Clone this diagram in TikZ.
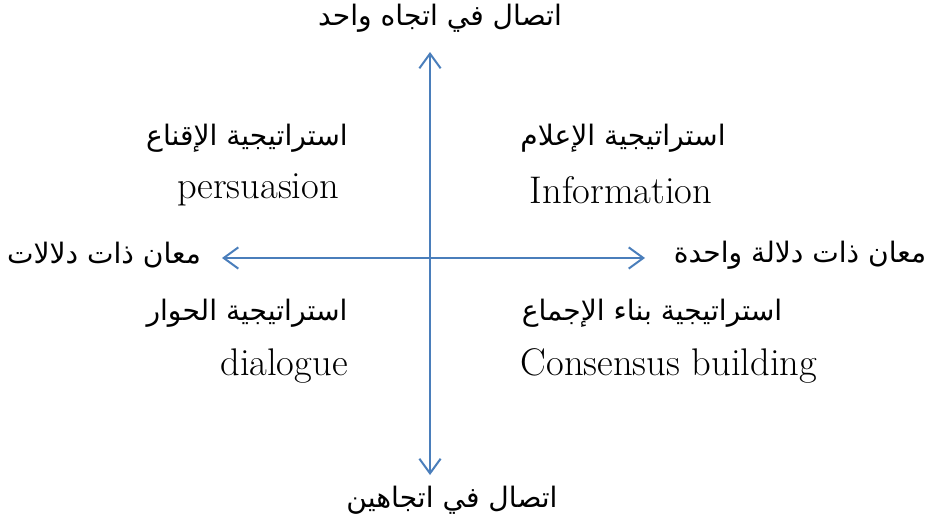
\documentclass[tikz,border=0pt]{standalone}
\usepackage{fontspec}
\usetikzlibrary{arrows.meta}
\TeXXeTstate=1
\newfontfamily\arabicfont[Script=Arabic]{DejaVu Sans}
\definecolor{axisblue}{HTML}{4A7EBB}
\tikzset{
  arlabel/.style={align=center,inner sep=0pt,font=\arabicfont\fontsize{21.2}{25}\selectfont},
  enlabel/.style={align=center,inner sep=0pt,font=\fontsize{29}{34}\selectfont},
  axis/.style={draw=axisblue,line width=1.5pt,>={Straight Barb[length=11pt,width=16pt,line width=1.5pt]},<->}
}
\begin{document}
\begin{tikzpicture}
\useasboundingbox (0,0) rectangle (24.606,13.917);
\coordinate (top) at (11.377,12.541);
\coordinate (bottom) at (11.377,1.349);
\coordinate (left) at (5.874,7.091);
\coordinate (right) at (17.066,7.091);

\node[arlabel] (oneway) at (11.642,13.441) {\beginR اتصال في اتجاه واحد\endR};
\node[arlabel] (twoway) at (11.959,0.688) {\beginR اتصال في اتجاهين\endR};
\node[arlabel] (many) at (2.752,7.170) {\beginR معان ذات دلالات\endR};
\node[arlabel] (single) at (21.167,7.170) {\beginR معان ذات دلالة واحدة\endR};

\node[arlabel] (persar) at (6.535,10.266) {\beginR استراتيجية الإقناع\endR};
\node[enlabel] (pers) at (6.826,8.890) {persuasion};
\node[arlabel] (infoar) at (16.483,10.266) {\beginR استراتيجية الإعلام\endR};
\node[enlabel] (info) at (16.430,8.890) {Information};
\node[arlabel] (dialar) at (6.535,5.636) {\beginR استراتيجية الحوار\endR};
\node[enlabel] (dial) at (7.514,4.233) {dialogue};
\node[arlabel] (consar) at (17.251,5.636) {\beginR استراتيجية بناء الإجماع\endR};
\node[enlabel] (cons) at (17.700,4.233) {Consensus building};

\draw [axis] (bottom) -- (top);
\draw [axis] (left) -- (right);
\end{tikzpicture}
\end{document}
